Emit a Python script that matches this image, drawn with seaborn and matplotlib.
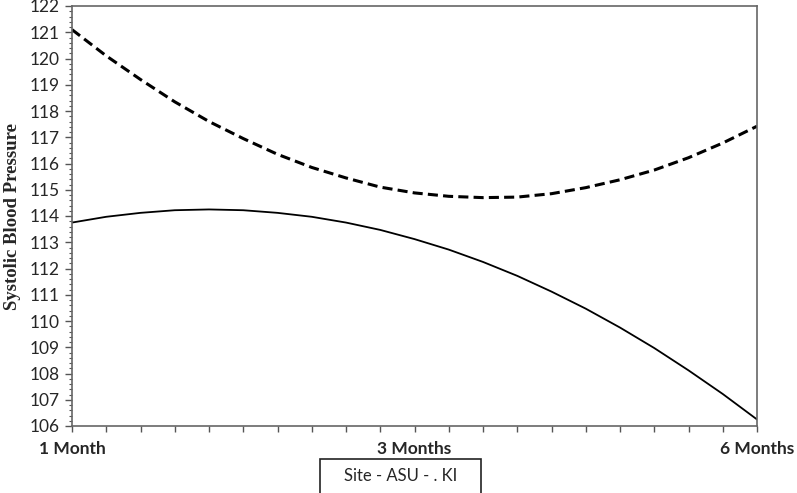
import matplotlib
matplotlib.use("Agg")
import matplotlib.pyplot as plt
import seaborn as sns
import pandas as pd
import numpy as np
from matplotlib.patches import Rectangle
from matplotlib.ticker import MultipleLocator, FixedLocator

# ---- data ----
time_index = list(range(21))            # 21 evenly spaced points between 1 and 6 months
tick_positions = [0, 10, 20]
tick_labels = ["1 Month", "3 Months", "6 Months"]
ki_values = [121.1, 120.1, 119.2, 118.35, 117.6, 116.95, 116.35, 115.85, 115.45, 115.1,
             114.88, 114.75, 114.7, 114.72, 114.85, 115.08, 115.38, 115.75, 116.22, 116.78, 117.42]
asu_values = [113.75, 113.97, 114.12, 114.22, 114.25, 114.22, 114.12, 113.97, 113.75, 113.47,
              113.12, 112.72, 112.25, 111.72, 111.12, 110.47, 109.75, 108.97, 108.12, 107.22, 106.25]
y_label = "Systolic Blood Pressure"
legend_text = "Site - ASU - . KI"

df = pd.DataFrame({
    "t": time_index * 2,
    "sbp": ki_values + asu_values,
    "Site": ["KI"] * len(ki_values) + ["ASU"] * len(asu_values),
})

sns.set_style("white")
plt.rcParams["font.family"] = ["Lato", "DejaVu Sans"]

fig = plt.figure(figsize=(7.97, 4.93), dpi=100)
top_px, bot_px = 6, 426
ax = fig.add_axes([72 / 797, 1 - bot_px / 493, (757 - 72) / 797, (bot_px - top_px) / 493])

sns.lineplot(data=df, x="t", y="sbp", style="Site", style_order=["ASU", "KI"],
             dashes={"ASU": "", "KI": (3.3, 1.7)}, color="black",
             legend=False, ax=ax)
for ln in ax.get_lines():
    if ln.get_linestyle() == "-":
        ln.set_linewidth(1.3)
    else:
        ln.set_linewidth(2.2)

ax.set_xlim(0, 20)
ax.set_ylim(106, 122)
ax.yaxis.set_major_locator(MultipleLocator(1))
ax.yaxis.set_minor_locator(MultipleLocator(0.2))
ax.xaxis.set_major_locator(FixedLocator(tick_positions))
ax.xaxis.set_minor_locator(MultipleLocator(1))
ax.set_xticklabels(tick_labels, fontweight="bold", fontsize=12.5)
ax.tick_params(axis="y", which="major", direction="out", length=5, width=1,
               color="#555555", labelsize=12.5, pad=4, left=True)
ax.tick_params(axis="y", which="minor", direction="out", length=2, width=0.8,
               color="#555555", left=True)
ax.tick_params(axis="x", which="major", direction="out", length=4, width=1,
               color="#555555", pad=7, bottom=True)
ax.tick_params(axis="x", which="minor", direction="out", length=4, width=1,
               color="#555555", bottom=True)
for s in ax.spines.values():
    s.set_color("#666666")
    s.set_linewidth(1.2)
    s.set_visible(True)

ax.set_xlabel("")
ax.set_ylabel("")
fig.text(13 / 797, 1 - 217 / 493, y_label, rotation=90, ha="center", va="center",
         fontsize=13.5, fontweight="bold", family=["Liberation Serif", "DejaVu Serif"])

# legend-like box at bottom
fig.patches.append(Rectangle((320 / 797, -0.05), 161 / 797, 0.05 + 1 - 459 / 493,
                             transform=fig.transFigure, fill=False,
                             edgecolor="#222222", linewidth=1.2))
fig.text(401 / 797, 1 - 476 / 493, legend_text, ha="center", va="center", fontsize=12)

fig.savefig("out.png", dpi=100)
